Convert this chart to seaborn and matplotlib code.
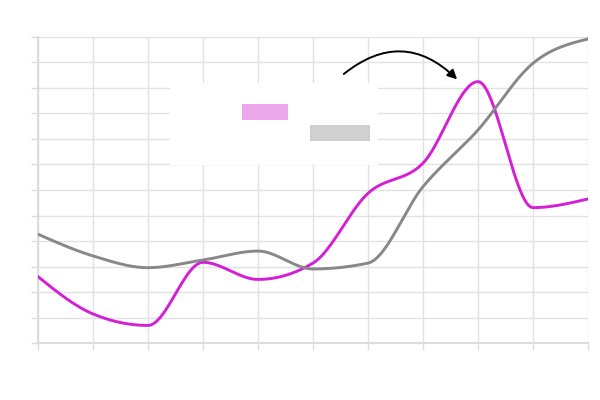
import numpy as np
import pandas as pd
import matplotlib
matplotlib.use("Agg")
import matplotlib.pyplot as plt
from matplotlib.patches import Rectangle
import seaborn as sns

# ---- data ----
x_idx = list(range(11))
series_a = [26.1, 11.5, 7.0, 31.7, 25.0, 31.4, 58.7, 70.5, 102.4, 53.1, 56.5]   # magenta
series_b = [42.7, 34.2, 29.6, 32.6, 36.1, 29.1, 31.4, 61.3, 83.5, 109.6, 119.1]  # gray
series_names = ["A", "B"]
colors = ["#d41fd6", "#888888"]
legend_colors = ["#eba7eb", "#d0d0d0"]


def monotone_curve(xs, ys, n=40):
    """d3 curveMonotoneX style rendering of a line through the points."""
    xs = np.asarray(xs, float)
    ys = np.asarray(ys, float)
    h = np.diff(xs)
    s = np.diff(ys) / h
    m = len(xs)
    t = np.zeros(m)
    for i in range(1, m - 1):
        s0, s1, h0, h1 = s[i - 1], s[i], h[i - 1], h[i]
        p = (s0 * h1 + s1 * h0) / (h0 + h1)
        t[i] = (np.sign(s0) + np.sign(s1)) * min(abs(s0), abs(s1), 0.5 * abs(p))
    t[0] = (3 * s[0] - t[1]) / 2
    t[-1] = (3 * s[-1] - t[-2]) / 2
    out_x, out_y = [], []
    for i in range(m - 1):
        u = np.linspace(0, 1, n, endpoint=(i == m - 2))
        x0, x1 = xs[i], xs[i + 1]
        dx = x1 - x0
        p0, p3 = ys[i], ys[i + 1]
        p1 = p0 + dx * t[i] / 3
        p2 = p3 - dx * t[i + 1] / 3
        bx = x0 + dx * u
        by = (1 - u) ** 3 * p0 + 3 * (1 - u) ** 2 * u * p1 + 3 * (1 - u) * u ** 2 * p2 + u ** 3 * p3
        out_x.extend(bx)
        out_y.extend(by)
    return np.array(out_x), np.array(out_y)


frames = []
for name, vals in zip(series_names, [series_a, series_b]):
    cx, cy = monotone_curve(x_idx, vals)
    frames.append(pd.DataFrame({"x": cx, "y": cy, "series": name}))
df = pd.concat(frames, ignore_index=True)

sns.set_theme(style="white")
fig = plt.figure(figsize=(6, 4), dpi=100)
ax = fig.add_axes([0.0633, 0.1417, 0.9167, 0.7666])

sns.lineplot(data=df, x="x", y="y", hue="series", palette=colors, sort=False,
             linewidth=2.1, legend=False, ax=ax, zorder=3)

ax.set_xlim(0, 10)
ax.set_ylim(0, 120)
ax.set_xticks(x_idx)
ax.set_yticks(np.arange(0, 121, 10))
ax.grid(True, color="#e2e2e2", linewidth=1.0)
ax.set_axisbelow(True)
for side in ["top", "right"]:
    ax.spines[side].set_visible(False)
for side in ["left", "bottom"]:
    ax.spines[side].set_color("#dcdcdc")
    ax.spines[side].set_linewidth(1.5)
ax.tick_params(axis="both", which="both", length=5, width=1, color="#dcdcdc",
               bottom=True, left=True,
               labelleft=False, labelbottom=False, direction="out")
ax.set_xlabel("")
ax.set_ylabel("")

# legend-like box with colour swatches
ax.add_patch(Rectangle((0.240, 0.580), 0.378, 0.270, transform=ax.transAxes,
                       facecolor="white", edgecolor="none", zorder=2))
ax.add_patch(Rectangle((0.371, 0.727), 0.084, 0.055, transform=ax.transAxes,
                       facecolor=legend_colors[0], edgecolor="none", zorder=2.5))
ax.add_patch(Rectangle((0.495, 0.660), 0.109, 0.052, transform=ax.transAxes,
                       facecolor=legend_colors[1], edgecolor="none", zorder=2.5))

# curved arrow
ax.annotate("", xy=(7.62, 103.3), xytext=(5.56, 105.4),
            arrowprops=dict(arrowstyle="-|>", color="black", lw=1.4,
                            mutation_scale=14, shrinkA=0, shrinkB=0,
                            connectionstyle="arc3,rad=-0.44"),
            zorder=4)

fig.savefig("out.png", dpi=100)
